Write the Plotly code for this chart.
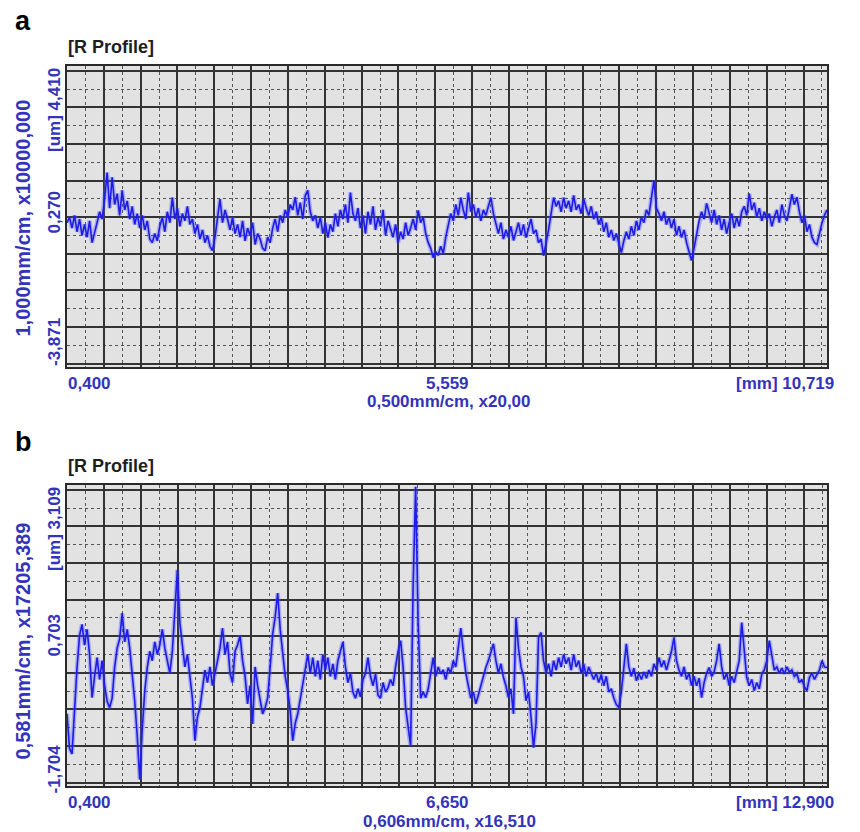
import numpy as np
import plotly.graph_objects as go

# ---------------- data (µm) ----------------
x_a_start, x_a_end = 0.400, 10.719
y_a_min, y_a_mid, y_a_max = -3.871, 0.270, 4.410
profile_a = [
    0.10, 0.25, -0.05, 0.30, -0.15, 0.20, -0.25, 0.05, -0.30, 0.15,
    -0.45, -0.20, 0.10, 0.40, 0.20, 0.75, 1.48, 0.50, 1.35, 0.60,
    0.90, 0.30, 0.99, 0.45, 0.70, 0.20, 0.55, 0.05, 0.35, -0.05,
    0.30, -0.10, 0.15, -0.35, -0.45, -0.20, -0.40, 0.00, 0.25, -0.15,
    0.40, 0.10, 0.79, 0.20, 0.50, 0.00, 0.35, 0.15, 0.55, 0.05,
    0.20, -0.20, 0.05, -0.35, -0.10, -0.45, -0.25, -0.55, -0.67, -0.30,
    0.30, 0.75, 0.10, 0.45, 0.20, -0.10, 0.25, -0.20, 0.05, -0.30,
    0.15, -0.40, -0.05, -0.25, 0.10, -0.50, -0.20, -0.35, -0.60, -0.67,
    -0.30, -0.45, -0.05, 0.20, -0.15, 0.30, 0.10, 0.45, 0.25, 0.60,
    0.45, 0.80, 0.30, 0.65, 0.20, 0.85, 0.99, 0.40, 0.15, 0.30,
    -0.05, 0.25, -0.20, 0.10, -0.31, 0.05, -0.15, 0.35, 0.00, 0.45,
    0.20, 0.60, 0.10, 0.93, 0.35, 0.15, 0.50, -0.05, 0.30, -0.20,
    0.40, 0.05, 0.55, -0.10, 0.25, 0.00, 0.45, -0.25, 0.15, -0.05,
    -0.30, 0.05, -0.45, -0.15, -0.35, 0.10, -0.25, -0.05, 0.20, -0.10,
    0.44, 0.10, 0.25, -0.20, -0.45, -0.60, -0.86, -0.70, -0.80, -0.55,
    -0.75, -0.30, 0.05, 0.35, 0.15, 0.60, 0.30, 0.79, 0.45, 0.20,
    0.93, 0.40, 0.60, 0.25, 0.50, 0.15, 0.45, 0.30, 0.55, 0.79,
    0.35, 0.05, -0.20, 0.10, -0.35, -0.10, -0.30, 0.00, -0.39, -0.15,
    0.10, -0.25, 0.05, -0.31, -0.05, 0.20, -0.20, -0.10, -0.45, -0.35,
    -0.81, -0.50, -0.10, 0.35, 0.79, 0.55, 0.70, 0.40, 0.79, 0.50,
    0.70, 0.40, 0.85, 0.45, 0.60, 0.35, 0.75, 0.50, 0.30, 0.55,
    0.20, 0.40, 0.05, 0.25, -0.15, 0.10, -0.30, -0.10, -0.39, -0.20,
    -0.45, -0.72, -0.40, -0.15, -0.35, 0.00, -0.25, 0.15, -0.10, 0.25,
    0.10, 0.45, 0.30, 0.80, 1.26, 0.50, 0.35, 0.15, 0.40, 0.05,
    0.25, -0.05, 0.20, -0.25, 0.00, -0.31, -0.10, -0.45, -0.70, -0.94,
    -0.60, -0.20, 0.15, 0.40, 0.20, 0.63, 0.35, 0.10, 0.45, 0.05,
    0.30, -0.10, 0.20, -0.20, 0.10, 0.35, -0.05, 0.25, 0.00, 0.40,
    0.55, 0.30, 0.90, 0.45, 0.65, 0.25, 0.50, 0.15, 0.40, 0.20,
    0.35, 0.00, 0.25, 0.45, 0.10, 0.60, 0.30, 0.15, 0.50, 0.88,
    0.60, 0.80, 0.40, 0.10, 0.30, -0.15, 0.05, -0.30, -0.45, -0.50,
    -0.20, 0.10, 0.30, 0.45,
]

x_b_start, x_b_end = 0.400, 12.900
y_b_min, y_b_mid, y_b_max = -1.704, 0.703, 3.109
profile_b = [
    -0.55, -1.10, -1.19, -0.40, 0.19, 0.70, 0.88, 0.55, 0.80, 0.40,
    -0.29, 0.05, 0.35, 0.00, 0.30, -0.10, -0.35, -0.45, -0.30, 0.20,
    0.50, 0.65, 1.06, 0.60, 0.80, 0.50, 0.10, -0.34, -0.90, -1.60,
    -0.80, -0.18, 0.19, 0.45, 0.30, 0.60, 0.40, 0.55, 0.80, 0.50,
    0.30, 0.10, 0.45, 1.20, 1.75, 0.90, 0.50, 0.20, 0.40, 0.05,
    -0.30, -0.98, -0.60, -0.45, -0.10, 0.15, -0.05, 0.20, -0.10, 0.10,
    0.30, 0.50, 0.82, 0.40, 0.60, 0.10, -0.05, 0.45, 0.55, 0.70,
    0.30, 0.05, -0.39, -0.10, -0.71, 0.20, -0.10, -0.30, -0.55, -0.45,
    -0.30, 0.20, 0.73, 1.00, 1.38, 0.80, 0.40, 0.05, -0.18, -0.50,
    -0.98, -0.70, -0.55, -0.30, -0.10, 0.19, 0.40, 0.10, 0.35, 0.05,
    0.30, 0.00, 0.40, 0.15, 0.35, 0.05, 0.25, 0.00, 0.30, 0.45,
    0.60, 0.20, -0.05, 0.10, -0.20, -0.30, -0.15, -0.28, 0.00, 0.10,
    0.35, 0.05, -0.10, 0.09, -0.25, -0.30, -0.05, -0.20, -0.13, 0.00,
    -0.10, 0.20, 0.45, 0.62, 0.20, -0.45, -0.80, -1.06, 1.50, 3.08,
    0.90, -0.30, -0.20, -0.29, -0.15, 0.10, 0.35, 0.05, 0.20, 0.09,
    0.15, 0.00, 0.19, 0.10, 0.30, 0.20, 0.50, 0.82, 0.45, 0.10,
    -0.10, -0.30, -0.20, -0.39, -0.25, -0.10, 0.03, 0.20, 0.30, 0.45,
    0.57, 0.30, 0.10, 0.25, 0.03, -0.10, -0.29, -0.15, -0.55, 0.99,
    0.50, 0.20, 0.05, -0.34, -0.20, -0.60, -1.09, -0.70, 0.67, 0.75,
    0.30, 0.10, 0.25, 0.05, 0.30, 0.15, 0.35, 0.20, 0.40, 0.25,
    0.35, 0.15, 0.40, 0.20, 0.30, 0.10, 0.25, 0.05, 0.20, 0.10,
    0.00, 0.10, -0.05, 0.08, -0.10, 0.05, -0.20, -0.15, -0.30, -0.40,
    -0.45, -0.20, 0.14, 0.57, 0.20, 0.05, 0.18, -0.02, 0.10, 0.00,
    0.12, 0.02, 0.15, 0.05, 0.25, 0.15, 0.35, 0.20, 0.30, 0.15,
    0.30, 0.45, 0.67, 0.30, 0.15, 0.05, 0.20, 0.00, 0.10, -0.10,
    0.05, -0.10, 0.02, -0.29, -0.05, 0.10, 0.19, 0.05, 0.12, 0.30,
    0.57, 0.20, 0.00, 0.10, -0.10, 0.05, -0.05, 0.15, 0.30, 0.91,
    0.40, 0.03, -0.10, 0.00, -0.18, -0.05, -0.15, 0.09, 0.15, 0.30,
    0.62, 0.35, 0.15, 0.20, 0.10, 0.18, 0.09, 0.20, 0.12, 0.15,
    0.05, 0.09, -0.05, 0.00, -0.12, -0.18, 0.03, 0.10, 0.00, 0.08,
    0.15, 0.30, 0.20, 0.19,
]

# text
panel_letters = ["a", "b"]
panel_titles = ["[R Profile]", "[R Profile]"]
y_titles = ["1,000mm/cm, x10000,000", "0,581mm/cm, x17205,389"]
x_titles = ["0,500mm/cm, x20,00", "0,606mm/cm, x16,510"]
y_tick_top = ["[um] 4,410", "[um] 3,109"]
y_tick_mid = ["0,270", "0,703"]
y_tick_bot = ["-3,871", "-1,704"]
x_tick_left = ["0,400", "0,400"]
x_tick_mid = ["5,559", "6,650"]
x_tick_right = ["[mm] 10,719", "[mm] 12,900"]

# ---------------- layout helpers ----------------
W, H = 860, 832
def px(x):
    return x / W
def py(y):
    return 1 - y / H

BLUE_TXT = "#3333bb"
LINE = "#1c1ce6"
FONT = "Arial, Liberation Sans, sans-serif"

panels = [
    dict(top=66, bottom=367, xr=(x_a_start, x_a_end), yr=(y_a_min, y_a_max),
         xd=0.5, prof=profile_a, mid=y_a_mid),
    dict(top=485, bottom=786, xr=(x_b_start, x_b_end), yr=(y_b_min, y_b_max),
         xd=0.606, prof=profile_b, mid=y_b_mid),
]
left, right = 67, 827

fig = go.Figure()
annotations = []

def ann(text, x, y, xanchor, yanchor, size, color=BLUE_TXT, angle=0):
    annotations.append(dict(text="<b>%s</b>" % text, x=px(x), y=py(y),
                            xref="paper", yref="paper",
                            xanchor=xanchor, yanchor=yanchor, textangle=angle,
                            showarrow=False,
                            font=dict(size=size, color=color, family=FONT)))

for i, p in enumerate(panels):
    xs = np.linspace(p["xr"][0], p["xr"][1], len(p["prof"]))
    n = "" if i == 0 else str(i + 1)
    # soft halo + main line
    fig.add_trace(go.Scatter(x=xs, y=p["prof"], mode="lines",
                             line=dict(color="rgba(85,85,255,0.38)", width=4.4),
                             xaxis="x" + n, yaxis="y" + n, hoverinfo="skip",
                             showlegend=False))
    fig.add_trace(go.Scatter(x=xs, y=p["prof"], mode="lines",
                             line=dict(color=LINE, width=1.6),
                             xaxis="x" + n, yaxis="y" + n, showlegend=False))
    hpx = p["bottom"] - p["top"]
    k = (p["yr"][1] - p["yr"][0]) / hpx
    ydt = 36.6 * k
    y0 = p["yr"][0] + 3.5 * k
    common = dict(showline=True, mirror=True, linecolor="#2a2a2a", linewidth=1.6,
                  showgrid=True, gridcolor="#333333", gridwidth=1.6,
                  zeroline=False, showticklabels=False, ticks="")
    fig.layout["xaxis" + n] = dict(
        domain=[px(left), px(right)], range=list(p["xr"]), anchor="y" + n,
        tick0=p["xr"][0], dtick=p["xd"],
        minor=dict(tick0=p["xr"][0], dtick=p["xd"] / 2, showgrid=True,
                   gridcolor="#555555", griddash="dot", gridwidth=1),
        **common)
    fig.layout["yaxis" + n] = dict(
        domain=[py(p["bottom"]), py(p["top"])], range=list(p["yr"]), anchor="x" + n,
        tick0=y0, dtick=ydt,
        minor=dict(tick0=y0, dtick=ydt / 2, showgrid=True,
                   gridcolor="#555555", griddash="dot", gridwidth=1),
        **common)

    top, bot = p["top"], p["bottom"]
    mid_px = (top + bot) / 2
    ann(panel_letters[i], 13, top - 45 + (2 if i else 0), "left", "middle", 27, "black")
    ann(panel_titles[i], 66, top - 19, "left", "middle", 18, "#1e1e1e")
    ann(y_titles[i], 22, mid_px + 2 + (4 if i else 0), "center", "middle", 20, angle=-90)
    ann(y_tick_top[i], 54, top, "center", "top", 17, angle=-90)
    ann(y_tick_mid[i], 54, mid_px - (4 if i == 0 else 0), "center", "middle", 17, angle=-90)
    ann(y_tick_bot[i], 54, bot + (10 if i else 1), "center", "bottom", 17, angle=-90)
    ann(x_tick_left[i], 66, bot + 16, "left", "middle", 17)
    ann(x_tick_mid[i], (left + right) / 2, bot + 16, "center", "middle", 17)
    ann(x_tick_right[i], 836, bot + 16, "right", "middle", 17)
    ann(x_titles[i], 449, bot + 35, "center", "middle", 17)

fig.update_layout(
    width=W, height=H, margin=dict(l=0, r=0, t=0, b=0),
    paper_bgcolor="white", plot_bgcolor="#e2e2e2",
    showlegend=False, annotations=annotations,
)
fig.write_html("out.html")
